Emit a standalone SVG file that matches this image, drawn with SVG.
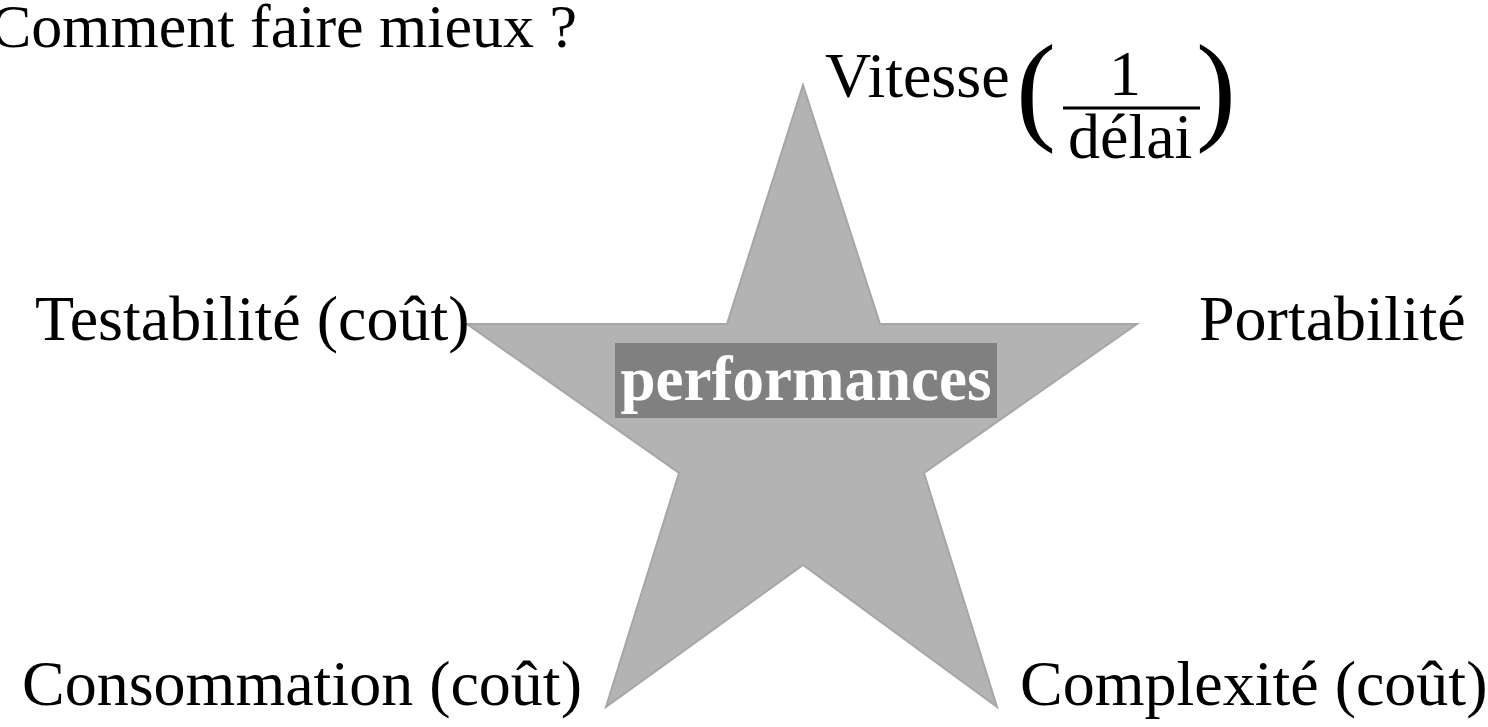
<svg xmlns="http://www.w3.org/2000/svg" width="1488" height="727" viewBox="0 0 1488 727">
<style>
.t{font-family:"Liberation Serif","Times New Roman",serif;font-size:64px;fill:#000}
.star{fill:#b3b3b3;stroke:#a6a6a6;stroke-width:2;stroke-linejoin:miter}
</style>
<rect width="1488" height="727" fill="#fff"/>
<g id="star">
<polygon class="star" points="803,85 880,324 1137,324 924,473 997,707 803,565 606,707 679,473 467,324 727,324"/>
</g>
<g id="center">
<rect x="615" y="343" width="382" height="75" fill="#808080"/>
<text x="806" y="400" text-anchor="middle" style="font-family:'Liberation Serif','Times New Roman',serif;font-size:63px;font-weight:bold;fill:#fff">performances</text>
</g>
<g id="title"><text class="t" x="-10" y="47" style="font-size:62px">Comment faire mieux ?</text></g>
<g id="vitesse">
<text class="t" x="825" y="97">Vitesse</text>
<text class="t" x="1016" y="128" style="font-size:120px">(</text>
<text class="t" x="1109" y="95">1</text>
<line x1="1063" y1="108" x2="1200" y2="108" stroke="#000" stroke-width="3"/>
<text class="t" x="1068" y="158">délai</text>
<text class="t" x="1196" y="128" style="font-size:120px">)</text>
</g>
<g id="testabilite"><text class="t" x="35" y="340">Testabilité (coût)</text></g>
<g id="portabilite"><text class="t" x="1199" y="340">Portabilité</text></g>
<g id="consommation"><text class="t" x="22" y="705">Consommation (coût)</text></g>
<g id="complexite"><text class="t" x="1020" y="705">Complexité (coût)</text></g>
<g id="connectors"/>
</svg>
